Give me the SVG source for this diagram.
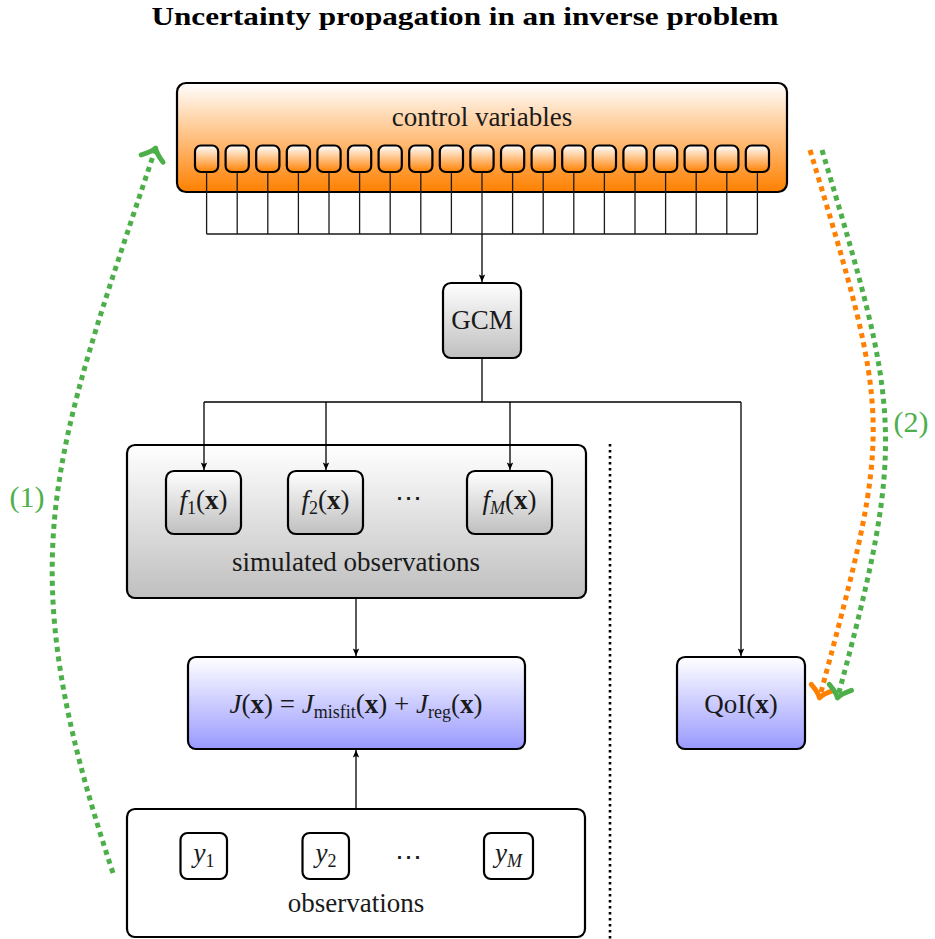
<svg xmlns="http://www.w3.org/2000/svg" width="935" height="939" viewBox="0 0 935 939">
<defs>
  <linearGradient id="gOrange" x1="0" y1="0" x2="0" y2="1">
    <stop offset="0" stop-color="#ffffff"/>
    <stop offset="1" stop-color="#ff8000"/>
  </linearGradient>
  <linearGradient id="gGray" x1="0" y1="0" x2="0" y2="1">
    <stop offset="0" stop-color="#ffffff"/>
    <stop offset="1" stop-color="#bfbfbf"/>
  </linearGradient>
  <linearGradient id="gBlue" x1="0" y1="0" x2="0" y2="1">
    <stop offset="0" stop-color="#ffffff"/>
    <stop offset="1" stop-color="#9999ff"/>
  </linearGradient>
  <marker id="arr" markerUnits="userSpaceOnUse" markerWidth="12" markerHeight="12" viewBox="-10 -6 12 12" refX="0" refY="0" orient="auto">
    <path d="M0,0 L-7.5,-3.2 L-6,0 L-7.5,3.2 Z" fill="#000"/>
  </marker>
  <marker id="arrGreen" markerUnits="userSpaceOnUse" markerWidth="34" markerHeight="34" viewBox="-17 -17 34 34" refX="0" refY="0" orient="auto">
    <path d="M-9,-11.5 Q-3,-2.5 2,0 Q-3,2.5 -9,11.5" fill="none" stroke="#4daf4a" stroke-width="5" stroke-linecap="round" stroke-linejoin="round"/>
  </marker>
  <marker id="arrOrange" markerUnits="userSpaceOnUse" markerWidth="34" markerHeight="34" viewBox="-17 -17 34 34" refX="0" refY="0" orient="auto">
    <path d="M-9,-11.5 Q-3,-2.5 2,0 Q-3,2.5 -9,11.5" fill="none" stroke="#ff7f00" stroke-width="5" stroke-linecap="round" stroke-linejoin="round"/>
  </marker>
</defs>
<style>
  text { font-family: "Liberation Serif", "Times New Roman", "DejaVu Serif", serif; font-size: 27px; fill: #1a1a1a; text-anchor: middle; }
  .title { font-weight: bold; font-size: 25px; fill: #000; }
  .box { stroke: #000; stroke-width: 2.2; }
  .thin { stroke: #1a1a1a; stroke-width: 1.3; fill: none; }
  .conn { stroke: #000; stroke-width: 1.3; fill: none; }
  .it { font-style: italic; }
  .bf { font-weight: bold; }
  .sub { font-size: 18px; }
  .green { fill: #4daf4a; font-size: 30px; }
  .dashG { stroke: #4daf4a; stroke-width: 5; fill: none; stroke-dasharray: 5 4.5; }
  .dashO { stroke: #ff7f00; stroke-width: 5; fill: none; stroke-dasharray: 5 4.5; }
</style>

<text class="title" x="465" y="25" textLength="627" lengthAdjust="spacingAndGlyphs">Uncertainty propagation in an inverse problem</text>

<g id="control-variables">
  <rect class="box" x="177" y="83" width="610" height="109" rx="9" fill="url(#gOrange)"/>
  <text x="482" y="126">control variables</text>
  <g class="thin">
    <path d="M206.6,172V234M237.2,172V234M267.8,172V234M298.4,172V234M329,172V234M359.6,172V234M390.2,172V234M420.8,172V234M451.4,172V234M482,172V234M512.6,172V234M543.2,172V234M573.8,172V234M604.4,172V234M635,172V234M665.6,172V234M696.2,172V234M726.8,172V234M757.4,172V234M206.6,234H757.4"/>
  </g>
  <g class="box" fill="url(#gOrange)">
    <rect x="195" y="145.5" width="23.2" height="26.5" rx="6"/>
    <rect x="225.6" y="145.5" width="23.2" height="26.5" rx="6"/>
    <rect x="256.2" y="145.5" width="23.2" height="26.5" rx="6"/>
    <rect x="286.8" y="145.5" width="23.2" height="26.5" rx="6"/>
    <rect x="317.4" y="145.5" width="23.2" height="26.5" rx="6"/>
    <rect x="348" y="145.5" width="23.2" height="26.5" rx="6"/>
    <rect x="378.6" y="145.5" width="23.2" height="26.5" rx="6"/>
    <rect x="409.2" y="145.5" width="23.2" height="26.5" rx="6"/>
    <rect x="439.8" y="145.5" width="23.2" height="26.5" rx="6"/>
    <rect x="470.4" y="145.5" width="23.2" height="26.5" rx="6"/>
    <rect x="501" y="145.5" width="23.2" height="26.5" rx="6"/>
    <rect x="531.6" y="145.5" width="23.2" height="26.5" rx="6"/>
    <rect x="562.2" y="145.5" width="23.2" height="26.5" rx="6"/>
    <rect x="592.8" y="145.5" width="23.2" height="26.5" rx="6"/>
    <rect x="623.4" y="145.5" width="23.2" height="26.5" rx="6"/>
    <rect x="654" y="145.5" width="23.2" height="26.5" rx="6"/>
    <rect x="684.6" y="145.5" width="23.2" height="26.5" rx="6"/>
    <rect x="715.2" y="145.5" width="23.2" height="26.5" rx="6"/>
    <rect x="745.8" y="145.5" width="23.2" height="26.5" rx="6"/>
  </g>
</g>

<g id="gcm">
  <rect class="box" x="443" y="283" width="78" height="75" rx="8" fill="url(#gGray)"/>
  <text x="482" y="329">GCM</text>
</g>

<g id="simulated-observations">
  <rect class="box" x="127" y="445" width="459" height="153" rx="8" fill="url(#gGray)"/>
  <text x="356" y="571">simulated observations</text>
  <text x="408" y="507">⋯</text>
</g>
<g id="f1">
  <rect class="box" x="166" y="471" width="75" height="63" rx="8" fill="url(#gGray)"/>
  <text x="203.5" y="509"><tspan class="it">f</tspan><tspan class="sub" dy="5">1</tspan><tspan dy="-5">(</tspan><tspan class="bf">x</tspan>)</text>
</g>
<g id="f2">
  <rect class="box" x="288" y="471" width="75" height="63" rx="8" fill="url(#gGray)"/>
  <text x="325.5" y="509"><tspan class="it">f</tspan><tspan class="sub" dy="5">2</tspan><tspan dy="-5">(</tspan><tspan class="bf">x</tspan>)</text>
</g>
<g id="fM">
  <rect class="box" x="467" y="471" width="85" height="63" rx="8" fill="url(#gGray)"/>
  <text x="509.5" y="509"><tspan class="it">f</tspan><tspan class="sub it" dy="5">M</tspan><tspan dy="-5">(</tspan><tspan class="bf">x</tspan>)</text>
</g>

<g id="cost-function">
  <rect class="box" x="188" y="657" width="337" height="92" rx="8" fill="url(#gBlue)"/>
  <text x="356" y="713"><tspan class="it">J</tspan>(<tspan class="bf">x</tspan>) = <tspan class="it">J</tspan><tspan class="sub" dy="5">misfit</tspan><tspan dy="-5">(</tspan><tspan class="bf">x</tspan>) + <tspan class="it">J</tspan><tspan class="sub" dy="5">reg</tspan><tspan dy="-5">(</tspan><tspan class="bf">x</tspan>)</text>
</g>

<g id="qoi">
  <rect class="box" x="677" y="657" width="128" height="92" rx="8" fill="url(#gBlue)"/>
  <text x="741" y="713">QoI(<tspan class="bf">x</tspan>)</text>
</g>

<g id="observations">
  <rect class="box" x="127" y="809" width="458" height="128" rx="8" fill="#ffffff"/>
  <text x="356" y="912">observations</text>
  <text x="408" y="866">⋯</text>
</g>
<g id="y1">
  <rect class="box" x="180.5" y="833" width="46.5" height="46" rx="7" fill="#ffffff"/>
  <text x="204" y="862"><tspan class="it">y</tspan><tspan class="sub" dy="5">1</tspan></text>
</g>
<g id="y2">
  <rect class="box" x="302.5" y="833" width="46.5" height="46" rx="7" fill="#ffffff"/>
  <text x="326" y="862"><tspan class="it">y</tspan><tspan class="sub" dy="5">2</tspan></text>
</g>
<g id="yM">
  <rect class="box" x="484" y="833" width="49" height="46" rx="7" fill="#ffffff"/>
  <text x="508.5" y="862"><tspan class="it">y</tspan><tspan class="sub it" dy="5">M</tspan></text>
</g>

<g id="connectors">
  <path class="conn" d="M482,234V282" marker-end="url(#arr)"/>
  <path class="conn" d="M482,358V402M204,402H741"/>
  <path class="conn" d="M204,402V470" marker-end="url(#arr)"/>
  <path class="conn" d="M326,402V470" marker-end="url(#arr)"/>
  <path class="conn" d="M510,402V470" marker-end="url(#arr)"/>
  <path class="conn" d="M741,402V656" marker-end="url(#arr)"/>
  <path class="conn" d="M356,598V656" marker-end="url(#arr)"/>
  <path class="conn" d="M356,809V750" marker-end="url(#arr)"/>
  <path d="M610,444V939" stroke="#000" stroke-width="2.6" stroke-dasharray="2.6 3.4" fill="none"/>
  <path class="dashG" d="M113,873 C8,558 50,465 155,150" marker-end="url(#arrGreen)"/>
  <path class="dashO" d="M810,150 C892,422 893,424 820,696" marker-end="url(#arrOrange)"/>
  <path class="dashG" d="M822,150 C899,408 908,438 838,696" marker-end="url(#arrGreen)"/>
</g>

<text class="green" x="27" y="507">(1)</text>
<text class="green" x="911" y="432">(2)</text>
</svg>
